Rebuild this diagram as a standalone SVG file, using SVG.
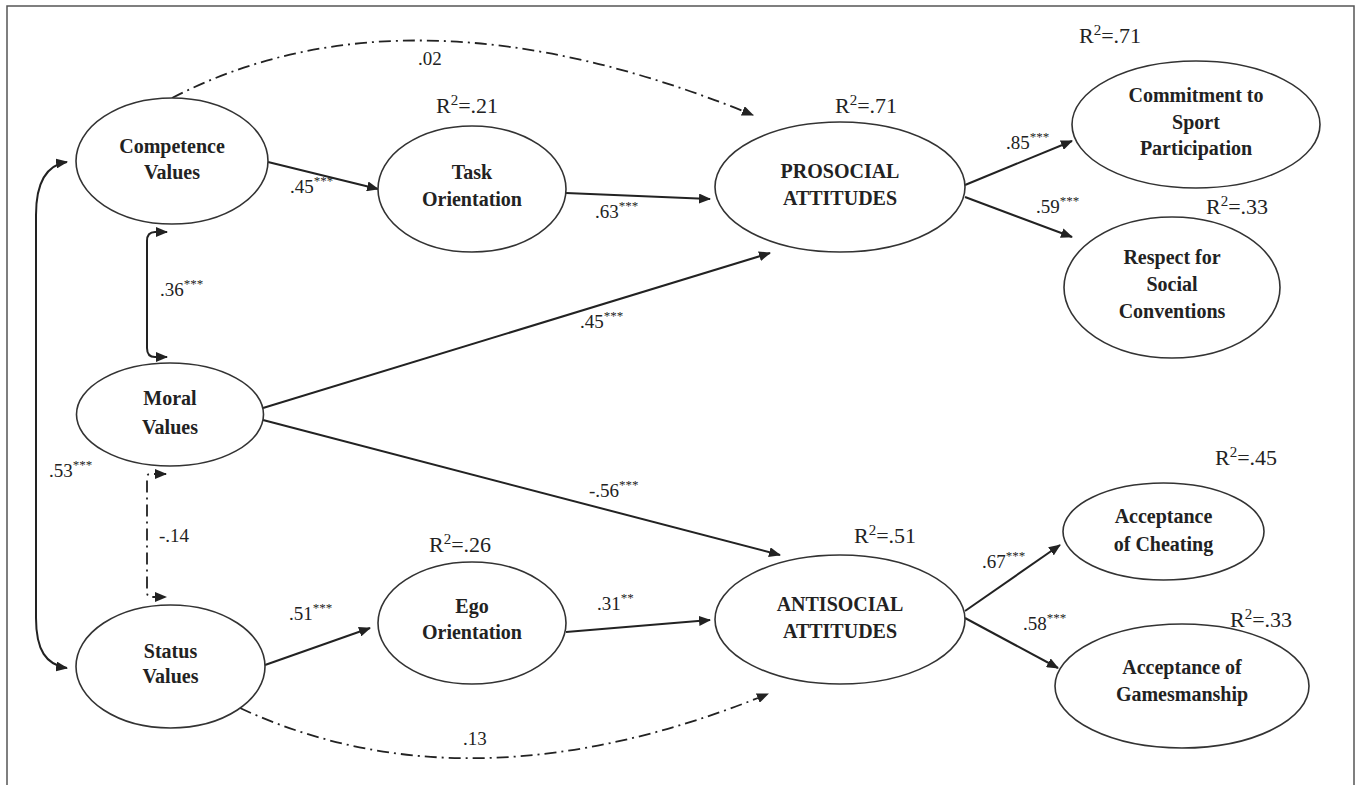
<svg xmlns="http://www.w3.org/2000/svg" width="1356" height="785" viewBox="0 0 1356 785">
<defs>
<marker id="ah" viewBox="0 0 12 10" refX="11" refY="5" markerWidth="12" markerHeight="10" markerUnits="userSpaceOnUse" orient="auto-start-reverse"><path d="M0,0 L12,5 L0,10 z" fill="#222"/></marker>
<style>
.node ellipse{fill:#fff;stroke:#333;stroke-width:1.6}
.lbl{font-family:"Liberation Serif","Times New Roman",serif;font-weight:bold;font-size:20px;fill:#222;text-anchor:middle}
.r2{font-family:"Liberation Serif","Times New Roman",serif;font-size:22px;fill:#222;text-anchor:middle}
.r2 .s{font-size:15px}
.coef{font-family:"Liberation Serif","Times New Roman",serif;font-size:19px;fill:#222}
.sup{font-size:13px}
.conn path{fill:none;stroke:#222;stroke-width:2;marker-end:url(#ah)}
.conn path.dd{stroke-dasharray:12 5 2 5;stroke-width:1.8}
.conn path.both{marker-start:url(#ah)}
</style>
</defs>
<rect x="0" y="0" width="1356" height="785" fill="#fff"/>
<path d="M7,790 V6 H1354 V790" fill="none" stroke="#555" stroke-width="1.5"/>

<g id="connectors" class="conn">
<path d="M268,162 L378,189"/>
<path d="M566,193 L710,199"/>
<path class="dd" d="M172,98 Q410,-25 753,115"/>
<path d="M263,408 L770,253"/>
<path d="M263,420 L780,555"/>
<path d="M265,665 L370,628"/>
<path d="M566,632 L710,620"/>
<path class="dd" d="M240,708 Q470,815 768,694"/>
<path d="M965,185 L1072,141"/>
<path d="M965,197 L1072,237"/>
<path d="M965,611 L1060,545"/>
<path d="M965,618 L1058,668"/>
<path class="both" d="M167,232 H155 Q147,232 147,241 V348 Q147,357 155,357 H167"/>
<path class="both" d="M67,162 C46,165 36,182 36,215 V618 C36,650 46,665 67,668"/>
<path class="both dd" d="M166,474 H150 Q147,474 147,478 V592 Q147,597 151,597 H166"/>
</g>

<g id="coefficients">
<text class="coef" x="290" y="193">.45<tspan class="sup" dy="-8">***</tspan></text>
<text class="coef" x="595" y="218">.63<tspan class="sup" dy="-8">***</tspan></text>
<text class="coef" x="418" y="65">.02</text>
<text class="coef" x="580" y="328">.45<tspan class="sup" dy="-8">***</tspan></text>
<text class="coef" x="589" y="497">-.56<tspan class="sup" dy="-8">***</tspan></text>
<text class="coef" x="289" y="620">.51<tspan class="sup" dy="-8">***</tspan></text>
<text class="coef" x="597" y="610">.31<tspan class="sup" dy="-8">**</tspan></text>
<text class="coef" x="463" y="745">.13</text>
<text class="coef" x="1006" y="149">.85<tspan class="sup" dy="-8">***</tspan></text>
<text class="coef" x="1036" y="213">.59<tspan class="sup" dy="-8">***</tspan></text>
<text class="coef" x="982" y="568">.67<tspan class="sup" dy="-8">***</tspan></text>
<text class="coef" x="1023" y="630">.58<tspan class="sup" dy="-8">***</tspan></text>
<text class="coef" x="160" y="296">.36<tspan class="sup" dy="-8">***</tspan></text>
<text class="coef" x="49" y="477">.53<tspan class="sup" dy="-8">***</tspan></text>
<text class="coef" x="159" y="542">-.14</text>
</g>

<g id="r2-labels">
<text class="r2" x="1110" y="43">R<tspan class="s" dy="-8">2</tspan><tspan dy="8">=.71</tspan></text>
<text class="r2" x="866" y="113">R<tspan class="s" dy="-8">2</tspan><tspan dy="8">=.71</tspan></text>
<text class="r2" x="467" y="113">R<tspan class="s" dy="-8">2</tspan><tspan dy="8">=.21</tspan></text>
<text class="r2" x="1237" y="214">R<tspan class="s" dy="-8">2</tspan><tspan dy="8">=.33</tspan></text>
<text class="r2" x="460" y="552">R<tspan class="s" dy="-8">2</tspan><tspan dy="8">=.26</tspan></text>
<text class="r2" x="885" y="543">R<tspan class="s" dy="-8">2</tspan><tspan dy="8">=.51</tspan></text>
<text class="r2" x="1246" y="465">R<tspan class="s" dy="-8">2</tspan><tspan dy="8">=.45</tspan></text>
<text class="r2" x="1261" y="627">R<tspan class="s" dy="-8">2</tspan><tspan dy="8">=.33</tspan></text>
</g>

<g id="competence" class="node"><ellipse cx="172" cy="161" rx="96" ry="63"/><text class="lbl" x="172" y="153">Competence</text><text class="lbl" x="172" y="179">Values</text></g>
<g id="task" class="node"><ellipse cx="472" cy="189" rx="94" ry="63"/><text class="lbl" x="472" y="179">Task</text><text class="lbl" x="472" y="206">Orientation</text></g>
<g id="prosocial" class="node"><ellipse cx="840" cy="187" rx="125" ry="65"/><text class="lbl" x="840" y="178">PROSOCIAL</text><text class="lbl" x="840" y="205">ATTITUDES</text></g>
<g id="commitment" class="node"><ellipse cx="1196" cy="124.5" rx="124" ry="63.5"/><text class="lbl" x="1196" y="102">Commitment to</text><text class="lbl" x="1196" y="129">Sport</text><text class="lbl" x="1196" y="155">Participation</text></g>
<g id="respect" class="node"><ellipse cx="1172" cy="287.5" rx="108" ry="70.5"/><text class="lbl" x="1172" y="264">Respect for</text><text class="lbl" x="1172" y="291">Social</text><text class="lbl" x="1172" y="318">Conventions</text></g>
<g id="moral" class="node"><ellipse cx="170" cy="414.5" rx="93.5" ry="51.5"/><text class="lbl" x="170" y="405">Moral</text><text class="lbl" x="170" y="434">Values</text></g>
<g id="status" class="node"><ellipse cx="170.5" cy="666.5" rx="94.5" ry="61.5"/><text class="lbl" x="170.5" y="658">Status</text><text class="lbl" x="170.5" y="683">Values</text></g>
<g id="ego" class="node"><ellipse cx="472" cy="623" rx="94" ry="61"/><text class="lbl" x="472" y="613">Ego</text><text class="lbl" x="472" y="639">Orientation</text></g>
<g id="antisocial" class="node"><ellipse cx="840" cy="619.5" rx="125" ry="64.5"/><text class="lbl" x="840" y="611">ANTISOCIAL</text><text class="lbl" x="840" y="638">ATTITUDES</text></g>
<g id="cheating" class="node"><ellipse cx="1163.5" cy="531.5" rx="100.5" ry="48.5"/><text class="lbl" x="1163.5" y="523">Acceptance</text><text class="lbl" x="1163.5" y="551">of Cheating</text></g>
<g id="gamesmanship" class="node"><ellipse cx="1182" cy="686" rx="127" ry="62"/><text class="lbl" x="1182" y="674">Acceptance of</text><text class="lbl" x="1182" y="701">Gamesmanship</text></g>
</svg>
